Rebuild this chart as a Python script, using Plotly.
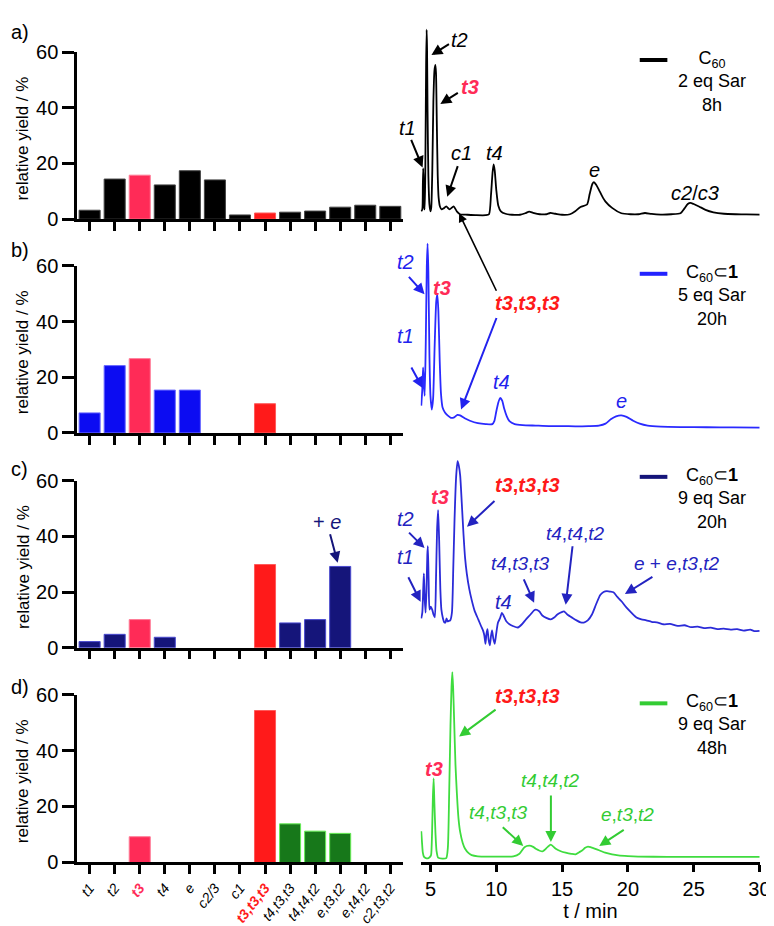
import plotly.graph_objects as go

# ---------------- data ----------------
categories = ["t1", "t2", "t3", "t4", "e", "c2/3", "c1", "t3,t3,t3",
              "t4,t3,t3", "t4,t4,t2", "e,t3,t2", "e,t4,t2", "c2,t3,t2"]
tick_labels = ["<i>t1</i>", "<i>t2</i>", "<span style='color:#ff2b57'><b><i>t3</i></b></span>",
               "<i>t4</i>", "<i>e</i>", "<i>c2/3</i>", "<i>c1</i>",
               "<span style='color:#ff1a1a'><b><i>t3,t3,t3</i></b></span>",
               "<i>t4,t3,t3</i>", "<i>t4,t4,t2</i>", "<i>e,t3,t2</i>", "<i>e,t4,t2</i>",
               "<i>c2,t3,t2</i>"]

yield_a = [3.2, 14.4, 15.8, 12.3, 17.4, 14.1, 1.5, 2.2, 2.5, 2.9, 4.3, 5.0, 4.6]
yield_b = [7.2, 24.2, 26.7, 15.4, 15.4, None, None, 10.5, None, None, None, None, None]
yield_c = [2.2, 4.8, 10.1, 3.75, None, None, None, 29.9, 8.9, 10.1, 29.2, None, None]
yield_d = [None, None, 9.2, None, None, None, None, 54.3, 13.8, 11.2, 10.4, None, None]

time_ticks = [5, 10, 15, 20, 25, 30]

chrom_a_t = [4.30, 4.38, 4.42, 4.45, 4.48, 4.52, 4.56, 4.62, 4.67, 4.71, 4.74, 4.78, 4.84, 4.92,
             5.00, 5.06, 5.14, 5.22, 5.30, 5.37, 5.42, 5.48, 5.55, 5.62, 5.72, 5.85, 6.00, 6.20,
             6.45, 6.76, 7.00, 7.25, 7.8, 8.5, 9.2, 9.45, 9.6, 9.72, 9.8, 9.88, 10.0, 10.15,
             10.35, 10.7, 11.2, 11.8, 12.2, 12.5, 12.8, 13.3, 13.8, 14.1, 14.5, 15.0, 15.6,
             16.0, 16.4, 16.9, 17.1, 17.3, 17.42, 17.6, 17.8, 18.1, 18.3, 18.8, 19.5, 20.2,
             20.8, 21.3, 21.8, 22.5, 23.3, 24.0, 24.3, 24.55, 24.75, 25.0, 25.4, 25.9, 26.5,
             27.3, 28.2, 29.0, 30.0]
chrom_a_v = [8, 10, 35, 52, 35, 12, 10, 70, 160, 194, 175, 110, 45, 15,
             8, 12, 50, 120, 152, 158, 150, 100, 45, 22, 13, 10, 11, 13,
             10, 13, 8, 5, 4.5, 4, 4, 5, 25, 48, 56, 50, 30, 14,
             8, 5.5, 4.5, 4.5, 6, 7.7, 6.5, 5, 5, 6.3, 5.5, 4.5, 5,
             8, 12.5, 15, 26, 36, 38, 35, 30, 22, 18, 11.5, 6, 5,
             5, 6.3, 5.3, 4.7, 5, 6, 11, 15.5, 16.7, 15.5, 13, 9.5, 7,
             5.5, 5, 4.8, 4.7]

chrom_b_t = [4.30, 4.38, 4.44, 4.50, 4.56, 4.64, 4.72, 4.78, 4.84, 4.92, 5.00, 5.10, 5.20,
             5.32, 5.44, 5.52, 5.60, 5.70, 5.80, 5.92, 6.1, 6.3, 6.55, 6.8, 7.05, 7.25, 7.6,
             8.0, 8.6, 9.2, 9.7, 9.85, 10.0, 10.15, 10.3, 10.45, 10.6, 10.8, 11.0, 11.4, 12.0,
             13.0, 14.0, 15.0, 16.0, 17.0, 17.8, 18.3, 18.7, 19.1, 19.5, 19.9, 20.4, 20.9,
             21.5, 22.5, 24.0, 26.0, 28.0, 30.0]
chrom_b_v = [28, 45, 67, 50, 38, 90, 170, 194, 165, 80, 38, 24, 35,
             90, 135, 142, 125, 75, 40, 26, 21, 18, 15.5, 16, 18.5, 18, 15,
             12.5, 10, 9, 9, 12, 22, 31, 36, 33, 25, 17, 12, 9, 8,
             7.5, 7, 7, 6.8, 7, 7.5, 9.5, 14, 17, 18, 16.5, 12.5, 9.5,
             7.5, 6.5, 6, 5.8, 5.6, 5.5]

chrom_c_t = [4.30, 4.38, 4.45, 4.50, 4.56, 4.63, 4.70, 4.76, 4.80, 4.86, 4.93, 5.03, 5.13,
             5.23, 5.33, 5.42, 5.50, 5.58, 5.66, 5.75, 5.83, 5.95, 6.05, 6.13, 6.22, 6.30,
             6.38, 6.50, 6.63, 6.73, 6.83, 6.95, 7.06, 7.16, 7.26, 7.38, 7.51, 7.63, 7.76,
             7.95, 8.13, 8.35, 8.63, 8.85, 9.01, 9.10, 9.18, 9.25, 9.33, 9.42, 9.51, 9.60,
             9.68, 9.78, 9.88, 10.0, 10.13, 10.28, 10.43, 10.55, 10.76, 11.0, 11.3, 11.64,
             11.95, 12.26, 12.6, 12.85, 13.0, 13.26, 13.5, 13.8, 14.14, 14.4, 14.64, 14.9,
             15.15, 15.4, 15.77, 16.1, 16.4, 16.65, 16.95, 17.27, 17.6, 17.9, 18.15, 18.4,
             18.65, 18.9, 19.2, 19.53, 19.9, 20.28, 20.65, 21.03, 21.4, 21.8, 22.28, 22.7,
             23.2, 23.78, 24.3, 24.8, 25.3, 25.79, 26.3, 26.8, 27.29, 27.8, 28.3, 28.8,
             29.3, 29.6, 30.0]
chrom_c_v = [30, 36, 60, 76, 50, 36, 60, 95, 104, 70, 39, 42, 39,
             34, 31, 70, 120, 141, 110, 60, 39, 30, 26, 25.7, 30, 27,
             27.3, 28, 36, 80, 132, 175, 191, 186, 176, 148, 116, 92, 76,
             60, 49, 38, 29, 22, 17, 12, 4, 14, 19, 8, 2.5, 12,
             17.7, 9, 4, 15, 25.7, 30, 35.7, 33, 27, 24, 22, 20.7,
             24, 29, 34, 38, 39, 37.3, 33, 30.5, 29, 31, 34, 36,
             37.3, 34, 30.7, 28, 26, 25.7, 28, 34, 45, 54, 57, 58,
             57.5, 56.7, 52, 47.3, 41, 35.7, 31, 29, 28, 26.5, 25.7, 24,
             24.5, 22.3, 23, 21, 21.5, 20, 20.5, 19, 19.5, 18.5, 19, 17.5,
             18.5, 17, 17.3]

chrom_d_t = [4.30, 4.36, 4.42, 4.50, 4.65, 4.85, 4.98, 5.05, 5.12, 5.18, 5.24, 5.30, 5.38,
             5.46, 5.58, 5.90, 6.20, 6.32, 6.42, 6.52, 6.60, 6.66, 6.72, 6.80, 6.90, 7.01,
             7.13, 7.26, 7.45, 7.63, 7.90, 8.13, 8.6, 9.5, 10.5, 11.3, 11.76, 12.14, 12.51,
             12.8, 13.0, 13.5, 13.89, 14.14, 14.52, 14.9, 15.27, 15.7, 16.02, 16.3, 16.52,
             16.75, 16.97, 17.2, 17.52, 17.9, 18.27, 18.8, 19.27, 20.0, 20.78, 23.0, 26.0, 30.0]
chrom_d_v = [32, 20, 10, 6, 4.5, 4.5, 6, 8, 30, 65, 86, 60, 30,
             12, 5, 4, 4.5, 15, 70, 140, 180, 195, 180, 145, 100, 70,
             45, 31, 20, 14, 9.5, 7.5, 6.3, 6, 6, 6.3, 9, 15.7, 17.3,
             16, 14, 11.3, 15.7, 18.3, 14, 11.5, 10, 8.8, 8.3, 10.5, 12.3,
             15, 16.3, 15.5, 14, 12, 10, 8.3, 7.3, 6.5, 6, 5.8, 5.7, 5.7]

# ---------------- style / layout ----------------
W, H = 774, 926
FONT = "Liberation Sans, Arial, Helvetica, sans-serif"
PINK = "#ff2b57"
RED = "#ff1a1a"


def PX(x):
    return x / W


def PY(y):
    return 1 - y / H


left_dom = [(34, 205), (253, 424), (473, 644), (692, 864)]
right_dom = [(8, 205), (228, 424), (448, 644), (666, 864)]

bar_sets = [
    (yield_a, "#000000", "#444444"),
    (yield_b, "#0c0cf2", "#6a6aff"),
    (yield_c, "#15157a", "#4a4ad0"),
    (yield_d, "#17781a", "#66ee55"),
]
chroms = [
    (chrom_a_t, chrom_a_v, "#000000"),
    (chrom_b_t, chrom_b_v, "#2a2aff"),
    (chrom_c_t, chrom_c_v, "#2b2bd8"),
    (chrom_d_t, chrom_d_v, "#3fdc3f"),
]

fig = go.Figure()
layout = dict(
    width=W, height=H, margin=dict(l=0, r=0, t=0, b=0),
    paper_bgcolor="white", plot_bgcolor="white", showlegend=False,
    font=dict(family=FONT, color="black"),
)

for i, (vals, base, edge) in enumerate(bar_sets):
    n = i + 1
    colors = [base] * len(categories)
    edges = [edge] * len(categories)
    colors[2] = PINK
    edges[2] = "#ff7a95"
    colors[7] = RED
    edges[7] = "#ff5a5a"
    fig.add_trace(go.Bar(
        x=categories, y=vals, xaxis=f"x{n}", yaxis=f"y{n}", width=0.84,
        marker=dict(color=colors, line=dict(color=edges, width=1)),
    ))
    top, bot = left_dom[i]
    layout[f"xaxis{n}"] = dict(
        domain=[PX(70), PX(400)], anchor=f"y{n}", type="category",
        categoryorder="array", categoryarray=categories, range=[-0.5, 12.5],
        showline=True, linecolor="black", linewidth=2.5,
        ticks="outside", ticklen=9, tickwidth=2.5, tickcolor="black",
        tickmode="array", tickvals=categories,
        ticktext=tick_labels if n == 4 else [""] * len(categories),
        showticklabels=(n == 4), tickangle=-52, tickfont=dict(size=14),
        showgrid=False, zeroline=False,
    )
    layout[f"yaxis{n}"] = dict(
        domain=[PY(bot), PY(top)], anchor=f"x{n}", range=[0, 60],
        tickvals=[0, 20, 40, 60], showline=True, linecolor="black", linewidth=2.5,
        ticks="outside", ticklen=12, tickwidth=2.5, tickcolor="black",
        tickfont=dict(size=20), showgrid=False, zeroline=False,
    )

for i, (tt, vv, col) in enumerate(chroms):
    n = i + 5
    fig.add_trace(go.Scatter(
        x=tt, y=vv, mode="lines", xaxis=f"x{n}", yaxis=f"y{n}",
        line=dict(color=col, width=1.8, shape="spline", smoothing=0.6),
    ))
    top, bot = right_dom[i]
    last = (n == 8)
    layout[f"xaxis{n}"] = dict(
        domain=[PX(418), PX(762)], anchor=f"y{n}", range=[4.25, 30.05],
        visible=last, showline=True, linecolor="black", linewidth=2.5,
        ticks="outside", ticklen=7, tickwidth=2.5, tickcolor="black",
        tickvals=time_ticks, tickfont=dict(size=20), showgrid=False, zeroline=False,
        title=dict(text="t / min", font=dict(size=20), standoff=2) if last else None,
    )
    layout[f"yaxis{n}"] = dict(
        domain=[PY(bot), PY(top)], anchor=f"x{n}", range=[0, bot - top],
        visible=False,
    )

ann = []


def text(t, x, y, color="black", size=18, **kw):
    ann.append(dict(text=t, x=PX(x), y=PY(y), xref="paper", yref="paper",
                    showarrow=False, font=dict(size=size, color=color, family=FONT),
                    xanchor="center", yanchor="middle", **kw))


def arrow(x0, y0, x1, y1, color="black", width=2):
    # from tail (x0,y0) to head (x1,y1) in pixels
    ann.append(dict(text="", x=PX(x1), y=PY(y1), xref="paper", yref="paper",
                    ax=x0 - x1, ay=y0 - y1, axref="pixel", ayref="pixel",
                    showarrow=True, arrowhead=2, arrowsize=1.1, arrowwidth=width,
                    arrowcolor=color))


# panel letters and y titles
for lab, y in zip(["a)", "b)", "c)", "d)"], [13, 237, 461, 684]):
    text(lab, 12, y, size=20)
for top, bot in left_dom:
    text("relative yield / %", 15, (top + bot) / 2 + 3, size=17, textangle=-90)

# legends
legends = [
    ("C<sub>60</sub><br>2 eq Sar<br>8h", 42, "#000000"),
    ("C<sub>60</sub>⊂<b>1</b><br>5 eq Sar<br>20h", 261, "#2222ff"),
    ("C<sub>60</sub>⊂<b>1</b><br>9 eq Sar<br>20h", 469, "#15157a"),
    ("C<sub>60</sub>⊂<b>1</b><br>9 eq Sar<br>48h", 701, "#33cc33"),
]
shapes = []
for t, y, col in legends:
    text(t, 713, y + 22, size=18)
    shapes.append(dict(type="line", xref="paper", yref="paper",
                       x0=PX(640), x1=PX(668), y0=PY(y), y1=PY(y),
                       line=dict(color=col, width=4)))

# panel a labels
text("<i>t2</i>", 457, 21, size=20)
arrow(448, 25, 429, 37)
text("<b><i>t3</i></b>", 468, 70, color=PINK, size=20)
arrow(457, 75, 438, 87)
text("<i>t1</i>", 405, 112, size=20)
arrow(408, 123, 420, 152)
text("<i>c1</i>", 459, 137, size=20)
arrow(456, 150, 445, 182)
text("<i>t4</i>", 493, 137, size=20)
text("<i>e</i>", 594, 155, size=20)
text("<i>c2</i>/<i>c3</i>", 696, 178, size=20)

# panel b labels
B = "#2222ee"
text("<i>t2</i>", 403, 249, color=B, size=20)
arrow(405, 263, 422, 282, color=B)
text("<b><i>t3</i></b>", 440, 276, color=PINK, size=20)
text("<i>t1</i>", 403, 325, color=B, size=20)
arrow(408, 356, 420, 378, color=B)
text("<i>t4</i>", 500, 372, color=B, size=20)
text("<i>e</i>", 622, 391, color=B, size=20)
text("<b><i>t3</i>,<i>t3</i>,<i>t3</i></b>", 526, 291, color=RED, size=20)
arrow(495, 278, 457, 199, color="black", width=1.6)
arrow(495, 307, 459, 400, color=B)

# panel c labels
C = "#2323c0"
text("<i>t2</i>", 403, 512, color=C, size=20)
arrow(405, 525, 422, 542, color=C)
text("<i>t1</i>", 403, 551, color=C, size=20)
arrow(405, 571, 418, 597, color=C)
text("<b><i>t3</i></b>", 438, 490, color=PINK, size=20)
text("<b><i>t3</i>,<i>t3</i>,<i>t3</i></b>", 526, 477, color=RED, size=20)
arrow(494, 493, 465, 520, color=C)
text("<i>t4</i>", 502, 597, color=C, size=20)
text("<i>t4</i>,<i>t3</i>,<i>t3</i>", 519, 558, color=C, size=19)
arrow(522, 573, 533, 598, color=C)
text("<i>t4</i>,<i>t4</i>,<i>t2</i>", 575, 527, color=C, size=19)
arrow(572, 540, 565, 600, color=C)
text("<i>e</i> + <i>e</i>,<i>t3</i>,<i>t2</i>", 678, 558, color=C, size=19)
arrow(654, 571, 625, 589, color=C)
text("+ <i>e</i>", 323, 515, color="#15157a", size=20)
arrow(326, 527, 334, 557, color="#15157a")

# panel d labels
G = "#33cc33"
text("<b><i>t3</i></b>", 432, 768, color=PINK, size=20)
text("<b><i>t3</i>,<i>t3</i>,<i>t3</i></b>", 526, 693, color=RED, size=20)
arrow(495, 707, 457, 735, color=G)
text("<i>t4</i>,<i>t3</i>,<i>t3</i>", 497, 813, color=G, size=19)
arrow(500, 827, 522, 847, color=G)
text("<i>t4</i>,<i>t4</i>,<i>t2</i>", 550, 780, color=G, size=19)
arrow(550, 795, 550, 843, color=G)
text("<i>e</i>,<i>t3</i>,<i>t2</i>", 628, 815, color=G, size=19)
arrow(625, 830, 599, 847, color=G)

layout["annotations"] = ann
layout["shapes"] = shapes
layout["bargap"] = 0.16
fig.update_layout(**layout)
fig.write_html("out.html")
